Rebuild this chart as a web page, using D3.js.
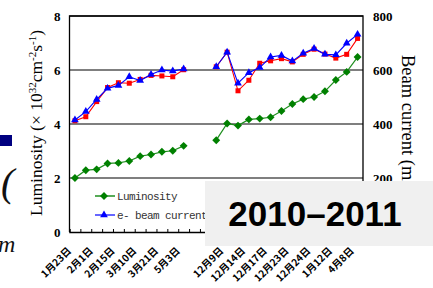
<!DOCTYPE html>
<html><head><meta charset="utf-8">
<script src="https://cdn.jsdelivr.net/npm/d3@7"></script>
<style>body{margin:0;background:#fff;}svg{display:block;}</style>
</head><body>
<svg id="c" width="433" height="288"></svg>
<script>
// ---- data ----
const tickLabels = ["1月23日","","2月1日","","2月15日","","3月10日","","3月21日","","5月3日","","",
  "","12月9日","","12月14日","","12月17日","","12月23日","","12月24日","","1月12日","","4月8日"];
const luminosity = [2.00,2.29,2.32,2.54,2.56,2.63,2.81,2.87,2.97,3.01,3.19,null,null,
  3.40,4.02,3.94,4.17,4.20,4.25,4.48,4.74,4.92,5.00,5.21,5.63,5.93,6.48];
const eMinus = [415,446,491,532,543,575,561,583,600,596,604,null,null,
  612,666,551,590,609,648,654,633,662,680,658,656,699,732];
const ePlus = [412,427,483,535,553,551,565,580,578,575,601,null,null,
  612,666,523,562,625,634,642,630,658,677,659,644,658,717];
const leftTicks = [0,2,4,6,8];
const rightTicks = [200,400,600,800];
const seriesNames = ["Luminosity","e- beam current"];

const svg = d3.select("#c");
const L = 69.5, R = 363, T = 16, B = 232;
const x = d3.scaleBand().domain(d3.range(tickLabels.length)).range([L, R]);
const yL = d3.scaleLinear().domain([0, 8]).range([B, T]);
const yR = d3.scaleLinear().domain([0, 800]).range([B, T]);
const cx = i => x(i) + x.bandwidth() / 2;

// background slide fragments
svg.append("rect").attr("x", 0).attr("y", 135).attr("width", 12).attr("height", 11).attr("fill", "#000080");
svg.append("text").attr("x", 1).attr("y", 196).attr("font-family", "Liberation Serif").attr("font-style", "italic")
  .attr("font-size", 40).attr("fill", "#111").text("(");
svg.append("text").attr("x", -2).attr("y", 252).attr("font-family", "Liberation Serif").attr("font-style", "italic")
  .attr("font-size", 24).attr("fill", "#111").text("m");

// gridlines
const g = svg.append("g");
g.selectAll("line.grid").data(leftTicks.filter(d => d > 0)).join("line")
  .attr("x1", L).attr("x2", R).attr("y1", d => yL(d)).attr("y2", d => yL(d))
  .attr("stroke", "#000").attr("stroke-width", 1.2);
// frame
g.append("path").attr("d", `M${L},${B}V${T}H${R}V${B}`).attr("fill", "none").attr("stroke", "#000").attr("stroke-width", 1.3);

// bottom axis with inner ticks at category boundaries
const xb = d3.scaleLinear().domain([0, tickLabels.length]).range([L, R]);
const axB = svg.append("g").attr("transform", `translate(0,${B})`)
  .call(d3.axisBottom(xb).tickValues(d3.range(1, tickLabels.length)).tickSize(-3).tickFormat(""));
axB.select(".domain").attr("stroke", "#000").attr("stroke-width", 1.5);
axB.selectAll(".tick line").attr("stroke", "#000");

// x labels
svg.append("g").selectAll("text").data(tickLabels.map((t, i) => ({t, i})).filter(d => d.t)).join("text")
  .attr("transform", d => `translate(${cx(d.i) - 3},${B + 19.5}) rotate(-45)`)
  .attr("text-anchor", "end").attr("font-family", "Noto Sans CJK SC").attr("font-weight", "bold")
  .attr("font-size", 10).attr("fill", "#000").text(d => d.t);

// left axis labels
const axL = svg.append("g").attr("transform", `translate(${L},0)`)
  .call(d3.axisLeft(yL).tickValues(leftTicks).tickSize(0).tickPadding(9));
axL.select(".domain").remove();
axL.selectAll("text").attr("font-family", "Liberation Serif").attr("font-weight", "bold").attr("font-size", 13).attr("fill", "#000");
// right axis labels
const axR = svg.append("g").attr("transform", `translate(${R},0)`)
  .call(d3.axisRight(yR).tickValues(rightTicks).tickSize(0).tickPadding(10));
axR.select(".domain").remove();
axR.selectAll("text").attr("font-family", "Liberation Serif").attr("font-weight", "bold").attr("font-size", 13).attr("fill", "#000");

// axis titles
const tl = svg.append("text").attr("transform", `translate(42,${(T + B) / 2 - 1}) rotate(-90)`)
  .attr("text-anchor", "middle").attr("font-family", "Liberation Serif").attr("font-size", 17.5).attr("fill", "#000");
tl.append("tspan").text("Luminosity (× 10");
tl.append("tspan").attr("dy", -6).attr("font-size", 11).text("32");
tl.append("tspan").attr("dy", 6).text("cm");
tl.append("tspan").attr("dy", -6).attr("font-size", 11).text("-2");
tl.append("tspan").attr("dy", 6).text("s");
tl.append("tspan").attr("dy", -6).attr("font-size", 11).text("-1");
tl.append("tspan").attr("dy", 6).text(")");
svg.append("text").attr("transform", `translate(402,55) rotate(90)`)
  .attr("font-family", "Liberation Serif").attr("font-size", 18.5).attr("fill", "#000").text("Beam current (mA)");

// series
const lineL = d3.line().defined(d => d != null).x((d, i) => cx(i)).y(d => yL(d));
const lineR = d3.line().defined(d => d != null).x((d, i) => cx(i)).y(d => yR(d));
const pts = arr => arr.map((v, i) => ({v, i})).filter(d => d.v != null);
const diamond = d3.symbol().type(d3.symbolDiamond2).size(40);
const tri = d3.symbol().type(d3.symbolTriangle).size(26);

svg.append("path").attr("d", lineL(luminosity)).attr("fill", "none").attr("stroke", "#1f8f1f").attr("stroke-width", 1.2);
svg.append("g").selectAll("path").data(pts(luminosity)).join("path")
  .attr("transform", d => `translate(${cx(d.i)},${yL(d.v)})`).attr("d", diamond).attr("fill", "#008000");

svg.append("path").attr("d", lineR(ePlus)).attr("fill", "none").attr("stroke", "#ff0000").attr("stroke-width", 1.1);
svg.append("g").selectAll("rect").data(pts(ePlus)).join("rect")
  .attr("x", d => cx(d.i) - 2.5).attr("y", d => yR(d.v) - 2.5).attr("width", 5).attr("height", 5).attr("fill", "#ff0000");

svg.append("path").attr("d", lineR(eMinus)).attr("fill", "none").attr("stroke", "#0000ff").attr("stroke-width", 1.1);
svg.append("g").selectAll("path").data(pts(eMinus)).join("path")
  .attr("transform", d => `translate(${cx(d.i)},${yR(d.v)})`).attr("d", tri).attr("fill", "#0000ff");

// legend
const lg = svg.append("g");
lg.append("line").attr("x1", 95).attr("x2", 115).attr("y1", 196).attr("y2", 196).attr("stroke", "#1f8f1f").attr("stroke-width", 1.5);
lg.append("path").attr("transform", "translate(104,196)").attr("d", diamond).attr("fill", "#008000");
lg.append("line").attr("x1", 95).attr("x2", 115).attr("y1", 215).attr("y2", 215).attr("stroke", "#0000ff").attr("stroke-width", 1.2);
lg.append("path").attr("transform", "translate(104,215)").attr("d", tri).attr("fill", "#0000ff");
lg.selectAll("text").data(seriesNames).join("text")
  .attr("x", 117).attr("y", (d, i) => 200 + i * 19)
  .attr("font-family", "Liberation Mono").attr("font-size", 11).attr("letter-spacing", -0.6)
  .attr("fill", "#333").text(d => d);

// overlay label box
svg.append("rect").attr("x", 205).attr("y", 181).attr("width", 228).attr("height", 65).attr("fill", "#f0f0f0");
svg.append("text").attr("x", 315).attr("y", 226).attr("text-anchor", "middle")
  .attr("font-family", "Liberation Sans").attr("font-weight", "bold").attr("font-size", 35).attr("fill", "#000")
  .text("2010–2011");
</script>
</body></html>
